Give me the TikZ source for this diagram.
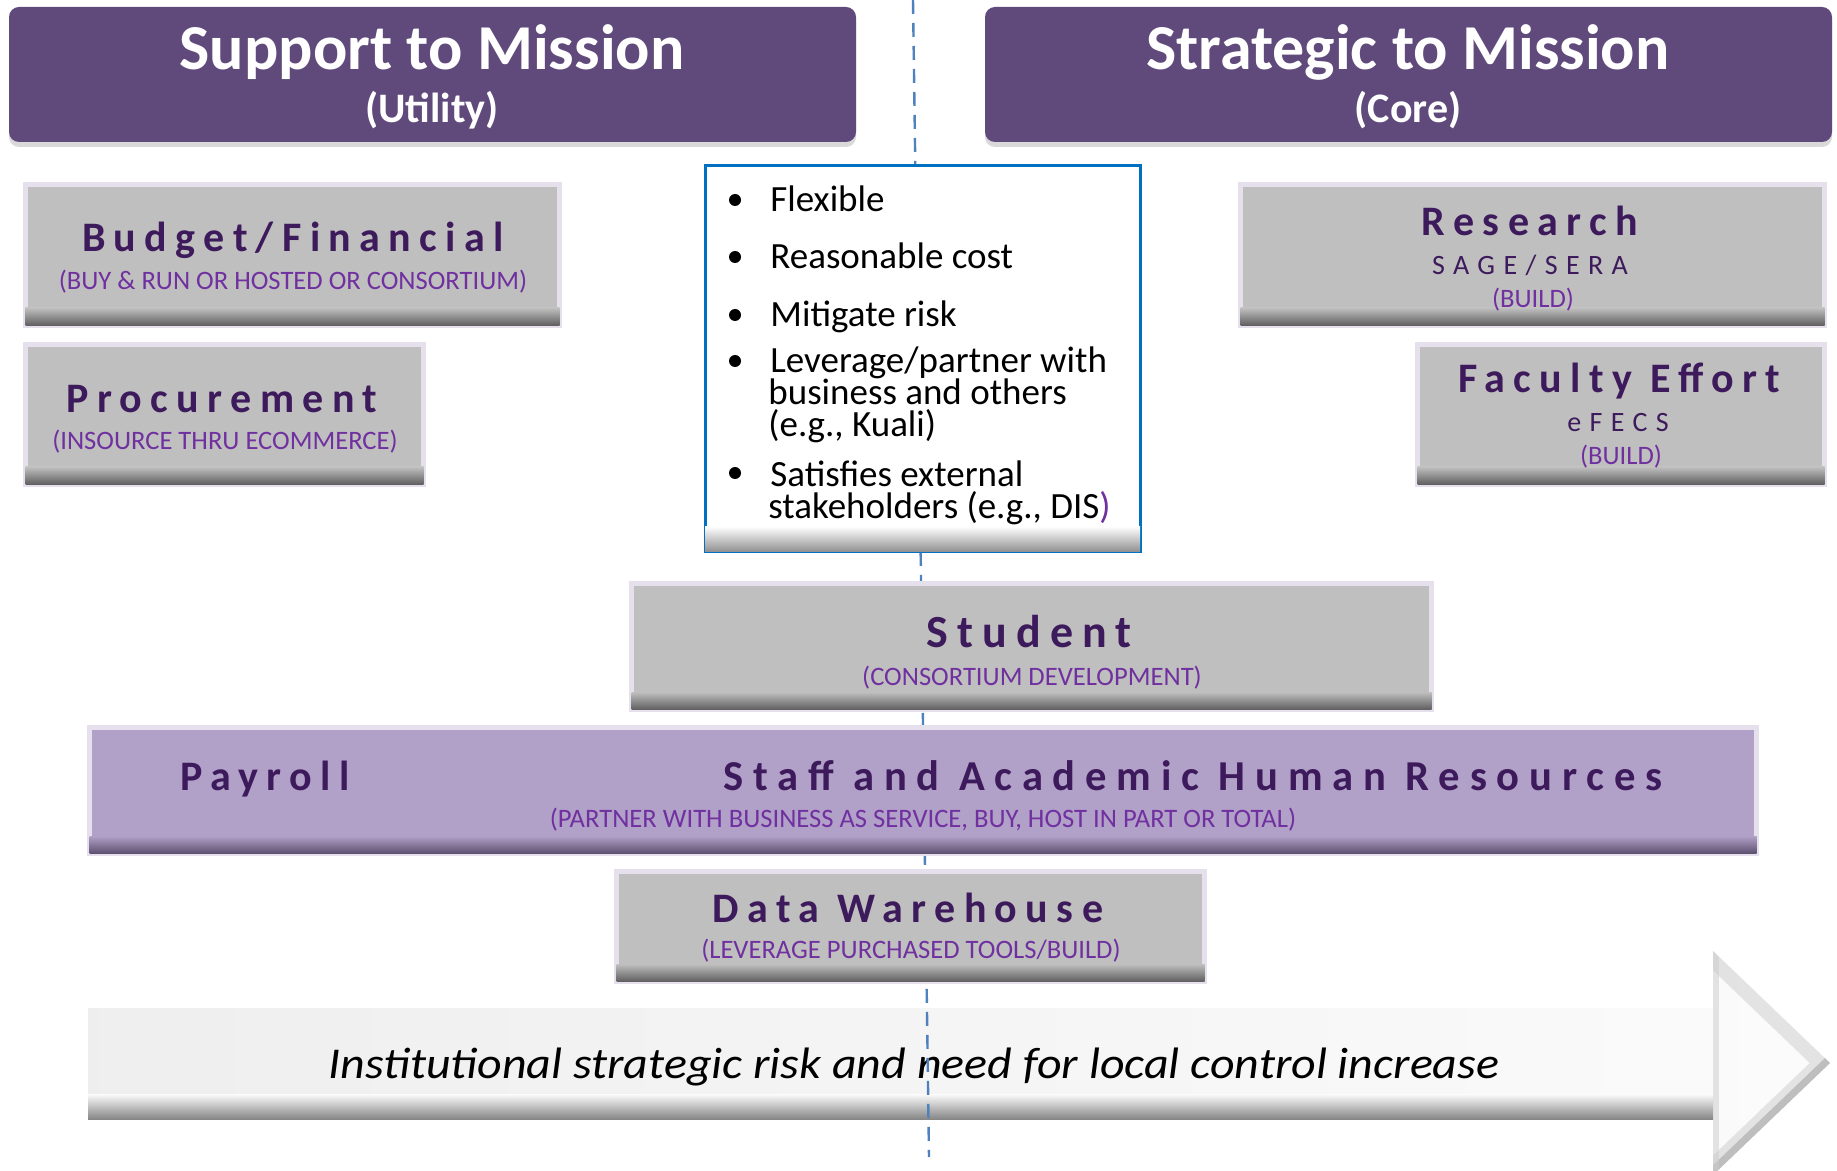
\documentclass[tikz,border=0pt]{standalone}
\usepackage{fontspec}
\setmainfont{Carlito}
\newfontfamily\widebold[LetterSpace=20]{Carlito}
\newfontfamily\widereg[LetterSpace=30]{Carlito}
\newfontfamily\trendfont[FakeStretch=1.09]{Carlito}
\usetikzlibrary{shadows}

\definecolor{headpurple}{HTML}{604A7B}
\definecolor{framelav}{HTML}{E6E0EC}
\definecolor{boxgray}{HTML}{BFBFBF}
\definecolor{boxdark}{HTML}{5F5F5F}
\definecolor{barlav}{HTML}{B1A0C7}
\definecolor{bardark}{HTML}{5E5070}
\definecolor{inkpurple}{HTML}{3D1A5B}
\definecolor{notepurple}{HTML}{7030A0}
\definecolor{noteblue}{HTML}{0070C0}
\definecolor{cutblue}{HTML}{4F81BD}

% dark band along the lower edge of a box: node, inset, height, top colour, bottom colour
\newcommand\bottomband[5]{%
  \shade[top color=#4,bottom color=#5]
    ([xshift=#2,yshift=#3]#1.south west) rectangle ([xshift=-#2,yshift=#2]#1.south east);}

\begin{document}
\begin{tikzpicture}[x=0.5pt,y=-0.5pt,inner sep=0pt,
  font=\fontsize{18.5}{22}\selectfont]
  \tikzstyle{header}=[fill=headpurple,rounded corners=5pt,
    drop shadow={shadow xshift=0pt,shadow yshift=-2.5pt,opacity=0.3}]
  \tikzstyle{graybox}=[draw=framelav,line width=2.5pt,fill=boxgray]
  \tikzstyle{lavbox}=[draw=framelav,line width=2.5pt,fill=barlav]
  \tikzstyle{note}=[draw=noteblue,line width=1.5pt,fill=white]
  \tikzstyle{headtext}=[anchor=base,text=white,
    font=\bfseries\fontsize{32}{36}\selectfont]
  \tikzstyle{headsub}=[anchor=base,text=white,
    font=\bfseries\fontsize{21}{25}\selectfont]
  \tikzstyle{unitname}=[anchor=base,text=inkpurple,
    font=\widebold\bfseries\fontsize{21}{25}\selectfont]
  \tikzstyle{code}=[anchor=base,text=inkpurple,
    font=\widereg\fontsize{14}{17}\selectfont]
  \tikzstyle{how}=[anchor=base,text=notepurple,
    font=\fontsize{13.3}{16}\selectfont]
  \tikzstyle{point}=[anchor=base west]
  \tikzstyle{dot}=[circle,fill=black,minimum size=6pt]

  \useasboundingbox (0,0) rectangle (1837,1171);

  % trend arrow
  \shade[left color=gray!13,right color=gray!3] (88,1008) -- (1713,1008) -- (1713,951)
    -- (1830,1063) -- (1713,1175) -- (1713,1119) -- (88,1119) -- cycle;
  \shade[top color=gray!3,bottom color=gray!95] (88,1094) rectangle (1713,1119);
  \begin{scope}
    \clip (1713,951) -- (1830,1063) -- (1713,1175) -- cycle;
    \draw[line width=14pt,gray!40,opacity=.5] (1713,951) -- (1830,1063) -- (1713,1175);
    \draw[line width=7pt,gray!70,opacity=.6] (1830,1063) -- (1713,1175);
    \draw[line width=6pt,gray!40,opacity=.5] (1713,951) -- (1713,1175);
  \end{scope}
  \node[anchor=base,font=\trendfont\itshape\fontsize{22}{26}\selectfont] (trend)
    at (914,1078) {Institutional strategic risk and need for local control increase};

  % dividing line
  \coordinate (cut top) at (913,0);
  \coordinate (cut end) at (929,1157);
  \draw[cutblue,line width=1.2pt,dash pattern=on 7pt off 4.5pt] (cut top) -- (cut end);

  % headers
  \node[header,minimum width=423.5pt,minimum height=67.5pt] (support) at (432.5,74.5) {};
  \node[header,minimum width=423.5pt,minimum height=67.5pt] (strategic) at (1408.5,74.5) {};
  \node[headtext] (support title) at (432,70) {Support to Mission};
  \node[headsub] (support note) at (432,123) {(Utility)};
  \node[headtext] (strategic title) at (1408,70) {Strategic to Mission};
  \node[headsub] (strategic note) at (1408,123) {(Core)};

  % criteria
  \node[note,minimum width=217.5pt,minimum height=192.5pt] (criteria) at (922.5,358.5) {};
  \bottomband{criteria}{0.75pt}{13pt}{white}{gray!85}
  \node[dot] (d1) at (735,200) {};
  \node[dot] (d2) at (735,257) {};
  \node[dot] (d3) at (735,315) {};
  \node[dot] (d4) at (735,361) {};
  \node[dot] (d5) at (735,473) {};
  \node[point] (p1) at (770,212) {Flexible};
  \node[point] (p2) at (770,269) {Reasonable cost};
  \node[point] (p3) at (770,327) {Mitigate risk};
  \node[point] (p4) at (770,373) {Leverage/partner with};
  \node[point] (p4b) at (768,405) {business and others};
  \node[point] (p4c) at (768,437) {(e.g., Kuali)};
  \node[point] (p5) at (770,487) {Satisfies external};
  \node[point] (p5b) at (768,518) {stakeholders (e.g., DIS\textcolor{notepurple}{)}};

  % utility side
  \node[graybox,minimum width=267pt,minimum height=70.5pt] (budget) at (292.5,255) {};
  \bottomband{budget}{1.25pt}{10pt}{boxgray}{boxdark}
  \node[unitname] (budget name) at (293,252) {Budget/Financial};
  \node[how] (budget how) at (293,290) {(BUY \& RUN OR HOSTED OR CONSORTIUM)};
  \node[graybox,minimum width=199pt,minimum height=70pt] (procure) at (224.5,414.5) {};
  \bottomband{procure}{1.25pt}{10pt}{boxgray}{boxdark}
  \node[unitname] (procure name) at (222,413) {Procurement};
  \node[how] (procure how) at (225,450) {(INSOURCE THRU ECOMMERCE)};

  % core side
  \node[graybox,minimum width=292pt,minimum height=70.5pt] (research) at (1532.5,255) {};
  \bottomband{research}{1.25pt}{10pt}{boxgray}{boxdark}
  \node[unitname] (research name) at (1530,236) {Research};
  \node[code] (research code) at (1530,275) {SAGE/SERA};
  \node[how] (research how) at (1533,308) {(BUILD)};
  \node[graybox,minimum width=203.5pt,minimum height=70pt] (faculty) at (1621,414.5) {};
  \bottomband{faculty}{1.25pt}{10pt}{boxgray}{boxdark}
  \node[unitname] (faculty name) at (1619,393) {Faculty Effort};
  \node[code] (faculty code) at (1618,432) {eFECS};
  \node[how] (faculty how) at (1621,465) {(BUILD)};

  % shared middle
  \node[graybox,minimum width=400pt,minimum height=63pt] (student) at (1031.5,646.5) {};
  \bottomband{student}{1.25pt}{10pt}{boxgray}{boxdark}
  \node[unitname,font=\widebold\bfseries\fontsize{23}{27}\selectfont] (student name)
    at (1029,647) {Student};
  \node[how] (student how) at (1032,685) {(CONSORTIUM DEVELOPMENT)};
  \node[lavbox,minimum width=833.5pt,minimum height=63pt] (hr) at (923,790.5) {};
  \bottomband{hr}{1.25pt}{10pt}{barlav}{bardark}
  \node[unitname] (payroll name) at (265,790) {Payroll};
  \node[unitname,font=\widebold\bfseries\addfontfeature{LetterSpace=23}\fontsize{21.3}{25}\selectfont]
    (hr name) at (1193,790) {Staff and Academic Human Resources};
  \node[how] (hr how) at (923,827) {(PARTNER WITH BUSINESS AS SERVICE, BUY, HOST IN PART OR TOTAL)};
  \node[graybox,minimum width=294pt,minimum height=55pt] (warehouse) at (910.5,926.5) {};
  \bottomband{warehouse}{1.25pt}{10pt}{boxgray}{boxdark}
  \node[unitname] (warehouse name) at (908,922) {Data Warehouse};
  \node[how] (warehouse how) at (911,958) {(LEVERAGE PURCHASED TOOLS/BUILD)};
\end{tikzpicture}
\end{document}
